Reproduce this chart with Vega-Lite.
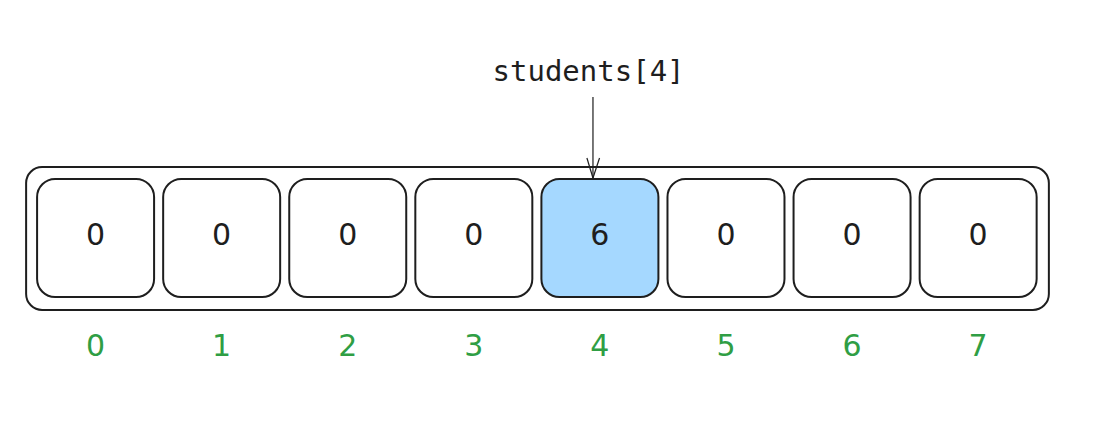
{
  "$schema": "https://vega.github.io/schema/vega-lite/v6.json",
  "description": "Array diagram: eight cells of students, index 4 highlighted.",
  "width": 1113,
  "height": 438,
  "autosize": "none",
  "padding": 0,
  "background": "white",
  "datasets": {
    "cells": [
      {"index": 0, "value": 0, "selected": false},
      {"index": 1, "value": 0, "selected": false},
      {"index": 2, "value": 0, "selected": false},
      {"index": 3, "value": 0, "selected": false},
      {"index": 4, "value": 6, "selected": true},
      {"index": 5, "value": 0, "selected": false},
      {"index": 6, "value": 0, "selected": false},
      {"index": 7, "value": 0, "selected": false}
    ],
    "pointer": [{"label": "students[4]"}]
  },
  "layer": [
    {
      "data": {"name": "pointer"},
      "mark": {"type": "rect", "fill": null, "stroke": "#1e1e1e", "strokeWidth": 2, "cornerRadius": 16},
      "encoding": {
        "x": {"datum": -0.551, "type": "quantitative", "scale": {"domain": [-0.7185, 8.03], "nice": false, "zero": false}, "axis": null},
        "x2": {"datum": 7.561},
        "y": {"datum": 167, "type": "quantitative", "scale": {"domain": [0, 438], "reverse": true, "nice": false, "zero": false}, "axis": null},
        "y2": {"datum": 310}
      }
    },
    {
      "data": {"name": "cells"},
      "mark": {"type": "bar", "width": 117, "cornerRadius": 18, "stroke": "#1e1e1e", "strokeWidth": 2, "orient": "vertical"},
      "encoding": {
        "x": {"field": "index", "type": "quantitative", "axis": null},
        "y": {"datum": 179, "type": "quantitative", "axis": null},
        "y2": {"datum": 297},
        "fill": {"condition": {"test": "datum.selected", "value": "#a5d8ff"}, "value": "#ffffff"}
      }
    },
    {
      "data": {"name": "cells"},
      "mark": {"type": "text", "font": "DejaVu Sans", "fontSize": 30, "color": "#1e1e1e", "align": "center", "baseline": "middle"},
      "encoding": {
        "x": {"field": "index", "type": "quantitative", "axis": null},
        "y": {"datum": 236, "type": "quantitative", "axis": null},
        "text": {"field": "value"}
      }
    },
    {
      "data": {"name": "cells"},
      "mark": {"type": "text", "font": "DejaVu Sans", "fontSize": 30, "color": "#2f9e44", "align": "center", "baseline": "middle"},
      "encoding": {
        "x": {"field": "index", "type": "quantitative", "axis": null},
        "y": {"datum": 347, "type": "quantitative", "axis": null},
        "text": {"field": "index"}
      }
    },
    {
      "data": {"name": "pointer"},
      "mark": {"type": "text", "font": "DejaVu Sans Mono", "fontSize": 29, "color": "#1e1e1e", "align": "center", "baseline": "middle"},
      "encoding": {
        "x": {"datum": 3.91, "type": "quantitative", "axis": null},
        "y": {"datum": 72, "type": "quantitative", "axis": null},
        "text": {"field": "label"}
      }
    },
    {
      "data": {"name": "pointer"},
      "mark": {"type": "rule", "color": "#1e1e1e", "strokeWidth": 1.2},
      "encoding": {
        "x": {"datum": 3.945, "type": "quantitative", "axis": null},
        "y": {"datum": 97, "type": "quantitative", "axis": null},
        "y2": {"datum": 178}
      }
    },
    {
      "data": {"name": "pointer"},
      "mark": {"type": "rule", "color": "#1e1e1e", "strokeWidth": 1.2},
      "encoding": {
        "x": {"datum": 3.897, "type": "quantitative", "axis": null},
        "x2": {"datum": 3.945},
        "y": {"datum": 158, "type": "quantitative", "axis": null},
        "y2": {"datum": 178}
      }
    },
    {
      "data": {"name": "pointer"},
      "mark": {"type": "rule", "color": "#1e1e1e", "strokeWidth": 1.2},
      "encoding": {
        "x": {"datum": 3.997, "type": "quantitative", "axis": null},
        "x2": {"datum": 3.945},
        "y": {"datum": 158, "type": "quantitative", "axis": null},
        "y2": {"datum": 178}
      }
    }
  ],
  "config": {
    "view": {"stroke": null}
  }
}
